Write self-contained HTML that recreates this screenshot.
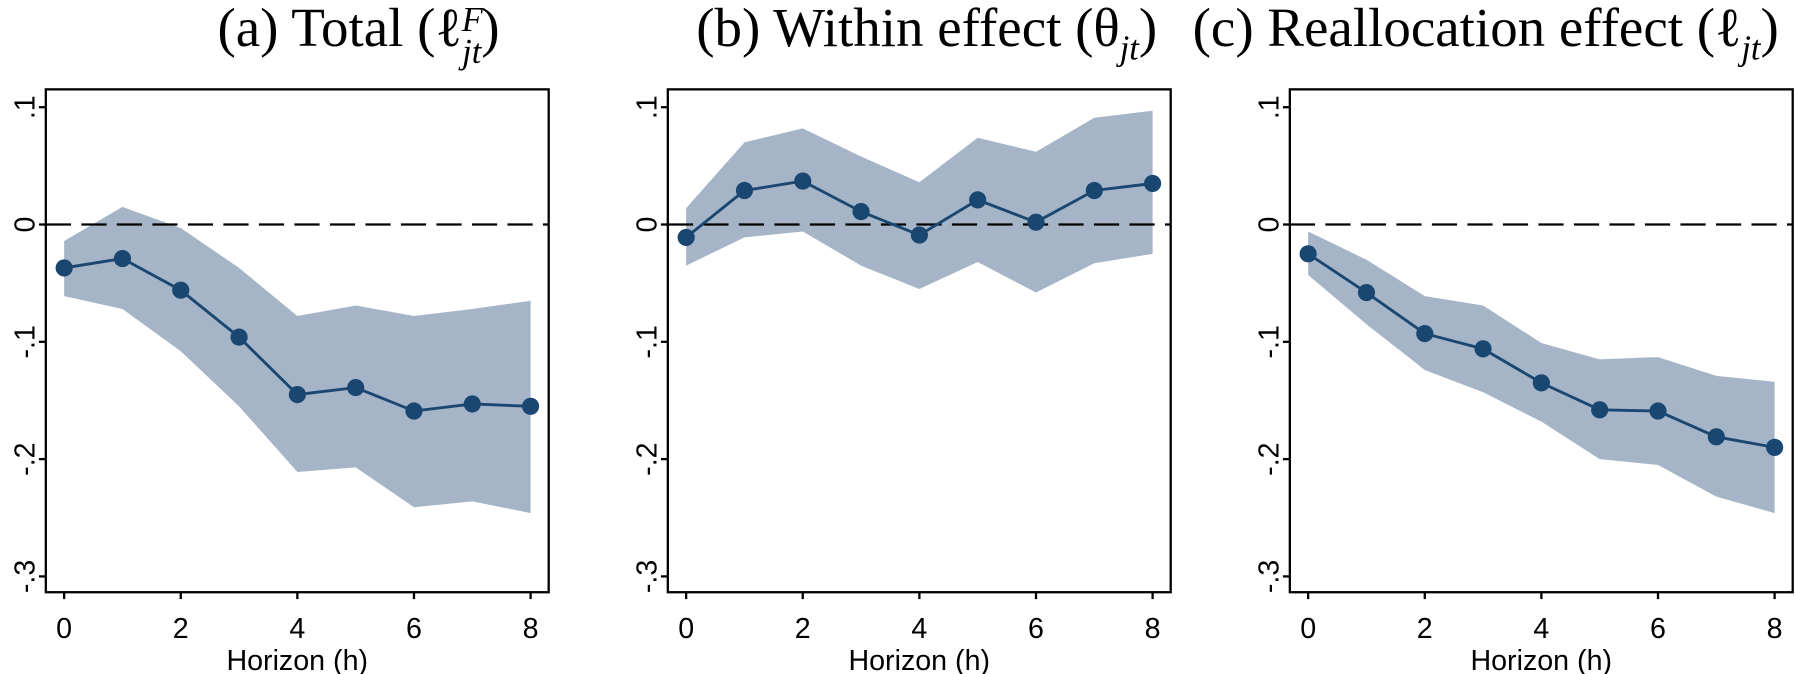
<!DOCTYPE html>
<html><head><meta charset="utf-8"><style>
html,body{margin:0;padding:0;background:#fff;}
svg{display:block;}
.tk{font-family:"Liberation Sans",sans-serif;font-size:25px;fill:#000;}
.tt{font-family:"Liberation Serif",serif;font-size:48px;fill:#000;}
</style></head><body>
<svg id="chart" width="1795" height="674" xmlns="http://www.w3.org/2000/svg"><g id="root" transform="scale(1.1455)"></g></svg>
<script>
const horizons=[0,1,2,3,4,5,6,7,8];
const yTicks=[0.1,0,-0.1,-0.2,-0.3];
const yTickLabels=[".1","0","-.1","-.2","-.3"];
const xTicks=[0,2,4,6,8];
const titles=["(a) Total (ℓ","(b) Within effect (θ","(c) Reallocation effect (ℓ"];
const titleCenters=[313,809,1297];
const meanA=[-0.037,-0.029,-0.056,-0.096,-0.145,-0.139,-0.159,-0.153,-0.155];
const upperA=[-0.014,0.015,-0.003,-0.037,-0.078,-0.069,-0.078,-0.072,-0.065];
const lowerA=[-0.061,-0.072,-0.108,-0.155,-0.211,-0.207,-0.241,-0.236,-0.246];
const meanB=[-0.011,0.029,0.037,0.011,-0.009,0.021,0.002,0.029,0.035];
const upperB=[0.014,0.07,0.082,0.058,0.036,0.074,0.062,0.091,0.097];
const lowerB=[-0.035,-0.011,-0.006,-0.035,-0.055,-0.032,-0.058,-0.033,-0.025];
const meanC=[-0.025,-0.058,-0.093,-0.106,-0.135,-0.158,-0.159,-0.181,-0.19];
const upperC=[-0.006,-0.03,-0.061,-0.069,-0.101,-0.115,-0.113,-0.129,-0.134];
const lowerC=[-0.043,-0.085,-0.124,-0.143,-0.168,-0.2,-0.205,-0.232,-0.246];
const panels=[[meanA,upperA,lowerA,"a"],[meanB,upperB,lowerB,"b"],[meanC,upperC,lowerC,"c"]];
const NS="http://www.w3.org/2000/svg";
const svg=document.getElementById('root');
function mk(tag,attrs,parent){const e=document.createElementNS(NS,tag);for(const k in attrs)e.setAttribute(k,attrs[k]);(parent||svg).appendChild(e);return e;}
const yS=v=>196-v*1024;
panels.forEach((p,i)=>{
  const off=i*543;
  const xS=h=>56+off+h*50.9;
  const g=mk('g',{});
  
  
  let d='M'+horizons.map((h,k)=>xS(h)+','+yS(p[1][k])).join(' L');
  d+=' L'+horizons.slice().reverse().map((h,k)=>xS(h)+','+yS(p[2][8-k])).join(' L')+' Z';
  const band=mk('path',{d:d,fill:'#a5b5c7'},g);
  
  
  const zl=mk('line',{x1:40+off,x2:479+off,y1:yS(0),y2:yS(0),stroke:'#000','stroke-width':2,'stroke-dasharray':'22,9'},g);
  
  
  const ln=mk('polyline',{points:horizons.map((h,k)=>xS(h)+','+yS(p[0][k])).join(' '),fill:'none',stroke:'#1a4772','stroke-width':2.5},g);
  
  
  horizons.forEach((h,k)=>{
    const c=mk('circle',{cx:xS(h),cy:yS(p[0][k]),r:7.5,fill:'#1a4772'},g);
    
    
  });
  const box=mk('rect',{x:40+off,y:78,width:439,height:439,fill:'none',stroke:'#000','stroke-width':2},g);
  
  
  yTicks.forEach((v,k)=>{
    mk('line',{x1:34+off,x2:40+off,y1:yS(v),y2:yS(v),stroke:'#000','stroke-width':2},g);
    const t=mk('text',{class:'tk',transform:'translate('+(30+off)+','+yS(v)+') rotate(-90)','text-anchor':'middle'},g);
    t.textContent=yTickLabels[k];
    
    
  });
  xTicks.forEach(h=>{
    mk('line',{x1:xS(h),x2:xS(h),y1:517,y2:523,stroke:'#000','stroke-width':2},g);
    const t=mk('text',{class:'tk',x:xS(h),y:557,'text-anchor':'middle'},g);
    t.textContent=h;
    
    
  });
  const xt=mk('text',{class:'tk',x:259.5+off,y:585,'text-anchor':'middle'},g);
  xt.textContent='Horizon (h)';
  
  
  const tt=mk('text',{class:'tt',x:titleCenters[i],y:40,'text-anchor':'middle'},g);
  
  
  tt.appendChild(document.createTextNode(titles[i]));
  if(i===0){
    const s1=mk('tspan',{'font-size':'30px','font-style':'italic',dy:'-13'},tt);s1.textContent='F';
    const s2=mk('tspan',{'font-size':'30px','font-style':'italic',dx:'-18',dy:'28'},tt);s2.textContent='jt';
    const s3=mk('tspan',{dy:'-15'},tt);s3.textContent=')';
  }else{
    const s2=mk('tspan',{'font-size':'30px','font-style':'italic',dy:'12'},tt);s2.textContent='jt';
    const s3=mk('tspan',{dy:'-12'},tt);s3.textContent=')';
  }
});
</script>
</body></html>
